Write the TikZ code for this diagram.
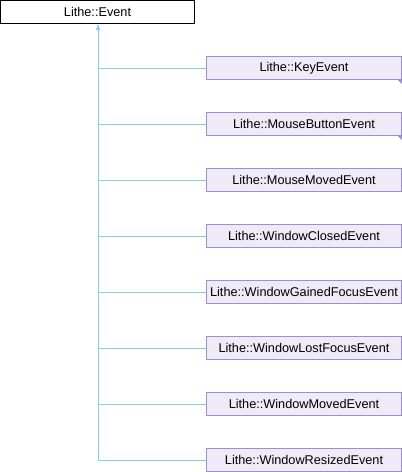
\documentclass[tikz,border=0pt]{standalone}
\usepackage{fontspec}
\setmainfont{Liberation Sans}
\usetikzlibrary{arrows.meta}
\definecolor{boxfill}{RGB}{238,235,246}
\definecolor{boxline}{RGB}{158,144,206}
\definecolor{linkblue}{RGB}{140,204,234}
\tikzset{
  classbox/.style={draw=boxline,fill=boxfill,line width=1pt,minimum width=195pt,minimum height=23pt,inner sep=0pt,font=\fontsize{12.7pt}{15pt}\selectfont},
  basebox/.style={draw=black,fill=white,line width=1pt,minimum width=194pt,minimum height=23pt,inner sep=0pt,font=\fontsize{12.7pt}{15pt}\selectfont},
  link/.style={draw=linkblue,line width=1pt},
}
\newcommand{\morechildren}[1]{\fill[boxline] (#1.south east) -- ++(0,4) -- ++(-4,-4) -- cycle;}
\begin{document}
\begin{tikzpicture}[x=1pt,y=-1pt]
\useasboundingbox (0,0) rectangle (402,472);
\node[basebox] (base) at (97.5,12) {Lithe::Event};

\node[classbox] (key) at (304,68) {Lithe::KeyEvent};
\node[classbox] (mbutton) at (304,124) {Lithe::MouseButtonEvent};
\node[classbox] (mmoved) at (304,180) {Lithe::MouseMovedEvent};
\node[classbox] (wclosed) at (304,236) {Lithe::WindowClosedEvent};
\node[classbox] (wgained) at (304,292) {Lithe::WindowGainedFocusEvent};
\node[classbox] (wlost) at (304,348) {Lithe::WindowLostFocusEvent};
\node[classbox] (wmoved) at (304,404) {Lithe::WindowMovedEvent};
\node[classbox] (wresized) at (304,460) {Lithe::WindowResizedEvent};
\morechildren{key}
\morechildren{mbutton}

% inheritance spine
\coordinate (spine) at (98,24);
\draw[link,-{Triangle[width=4pt,length=6pt]}] (spine |- wresized.west) -- (spine);
\draw[link] (spine |- key.west) -- (key.west);
\draw[link] (spine |- mbutton.west) -- (mbutton.west);
\draw[link] (spine |- mmoved.west) -- (mmoved.west);
\draw[link] (spine |- wclosed.west) -- (wclosed.west);
\draw[link] (spine |- wgained.west) -- (wgained.west);
\draw[link] (spine |- wlost.west) -- (wlost.west);
\draw[link] (spine |- wmoved.west) -- (wmoved.west);
\draw[link] (spine |- wresized.west) -- (wresized.west);
\end{tikzpicture}
\end{document}
